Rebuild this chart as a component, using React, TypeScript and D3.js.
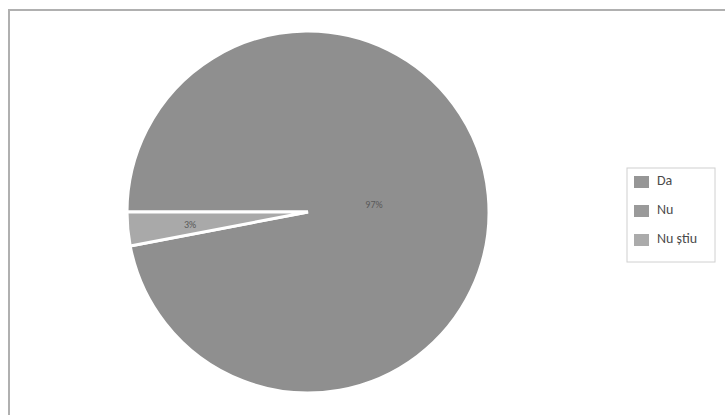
import React from "react";
import * as d3 from "d3";

const categories = ["Da", "Nu", "Nu știu"];
const values = [97, 3, 0];
const labels = ["97%", "3%", ""];
const sliceColors = ["#8f8f8f", "#a9a9a9", "#b4b4b4"];
const legendColors = ["#969696", "#9a9a9a", "#ababab"];

export default function App() {
  const W = 725, H = 415;
  const cx = 308, cy = 212, r = 181;
  const pie = d3
    .pie<number>()
    .sort(null)
    .value((d) => d)
    .startAngle((3 * Math.PI) / 2)
    .endAngle((3 * Math.PI) / 2 + 2 * Math.PI);
  const arcs = pie(values);
  const arc = d3.arc<d3.PieArcDatum<number>>().innerRadius(0).outerRadius(r);
  const labelPos = [
    [66, -6],
    [-118, 14],
  ];
  return (
    <svg
      width={W}
      height={H}
      style={{ position: "absolute", left: 0, top: 0, background: "#fff" }}
      fontFamily="Carlito, 'Liberation Sans', sans-serif"
    >
      <rect x={9} y={10} width={730} height={420} fill="#fff" stroke="#b0b0b0" strokeWidth={2} />
      <g transform={`translate(${cx},${cy})`}>
        {arcs.map((a, i) =>
          a.value > 0 ? (
            <path key={i} d={arc(a) || ""} fill={sliceColors[i]} stroke="#fff" strokeWidth={3} strokeLinejoin="miter" />
          ) : null
        )}
        {arcs.map((a, i) =>
          labels[i] ? (
            <text
              key={"l" + i}
              x={labelPos[i][0]}
              y={labelPos[i][1]}
              fontSize={10}
              fill="#5a5a5a"
              textAnchor="middle"
              dominantBaseline="middle"
            >
              {labels[i]}
            </text>
          ) : null
        )}
      </g>
      <rect x={627} y={168} width={88} height={94} fill="#fff" stroke="#d0d0d0" strokeWidth={1} />
      {categories.map((c, i) => (
        <g key={c} transform={`translate(634,${182 + i * 29})`}>
          <rect x={0} y={-6} width={15} height={12} fill={legendColors[i]} />
          <text x={23} y={0} dominantBaseline="middle" fontSize={14} fill="#4a4a4a">
            {c}
          </text>
        </g>
      ))}
    </svg>
  );
}
